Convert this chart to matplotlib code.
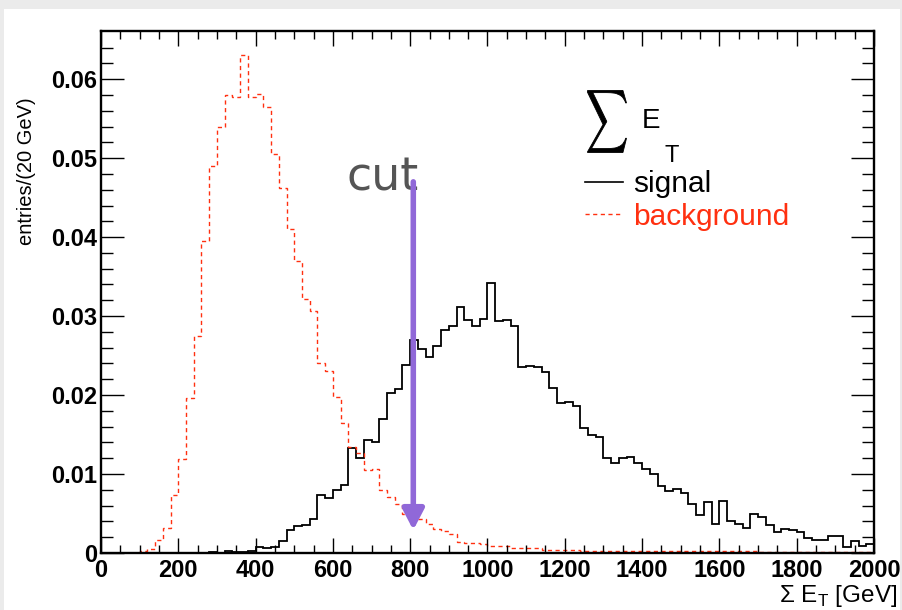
### Import modules
import numpy as np
import matplotlib
matplotlib.use('Agg')
import matplotlib.pyplot as plt
from matplotlib.patches import Rectangle, PathPatch
from matplotlib.textpath import TextPath
from matplotlib.font_manager import FontProperties
from matplotlib.transforms import Affine2D

### Histogram binning (20 GeV bins)
edges = np.arange(0, 2020, 20)

### Signal (normalised entries per bin)
signal = [0, 0, 0, 0, 0, 0, 0, 0, 0, 0,
          0, 0, 0, 0, 0.0001, 0, 0.0002, 0.0001, 0.0001, 0.0002,
          0.0007, 0.0006, 0.0008, 0.0015, 0.0029, 0.0034, 0.0035, 0.0043, 0.0073, 0.0070,
          0.0080, 0.0086, 0.0133, 0.0120, 0.0143, 0.0140, 0.0170, 0.0202, 0.0208, 0.0238,
          0.0270, 0.0258, 0.0248, 0.0262, 0.0282, 0.0287, 0.0311, 0.0295, 0.0287, 0.0296,
          0.0342, 0.0294, 0.0295, 0.0287, 0.0236, 0.0237, 0.0236, 0.0229, 0.0209, 0.0190,
          0.0191, 0.0186, 0.0158, 0.0150, 0.0147, 0.0120, 0.0114, 0.0120, 0.0122, 0.0114,
          0.0107, 0.0100, 0.0085, 0.0079, 0.0081, 0.0076, 0.0062, 0.0048, 0.0064, 0.0037,
          0.0066, 0.0040, 0.0037, 0.0032, 0.0049, 0.0046, 0.0035, 0.0027, 0.0031, 0.0029,
          0.0026, 0.0019, 0.0017, 0.0016, 0.0022, 0.0021, 0.0007, 0.0015, 0.0009, 0.0012]

### Background
background = [0, 0, 0, 0, 0, 0.0002, 0.0005, 0.0017, 0.0032, 0.0074,
              0.0119, 0.0196, 0.0275, 0.0395, 0.0490, 0.0540, 0.0580, 0.0577, 0.0631, 0.0577,
              0.0581, 0.0565, 0.0505, 0.0462, 0.0410, 0.0370, 0.0322, 0.0307, 0.0241, 0.0230,
              0.0197, 0.0164, 0.0134, 0.0127, 0.0105, 0.0106, 0.0080, 0.0071, 0.0062, 0.0049,
              0.0046, 0.0043, 0.0037, 0.0031, 0.0028, 0.0024, 0.0014, 0.0013, 0.0013, 0.0011,
              0.0009, 0.0009, 0.0009, 0.0006, 0.0006, 0.0006, 0.0006, 0.0004, 0.0004, 0.0004,
              0.0004, 0.0004, 0.0003, 0.0003, 0.0003, 0.0003, 0.0003, 0.0003, 0.0003, 0.0003,
              0.0002, 0.0002, 0.0002, 0.0002, 0.0002, 0.0002, 0.0002, 0.0002, 0.0002, 0.0002,
              0.0002, 0.0002, 0.0002, 0.0002, 0.0002, 0.0001, 0.0001, 0.0001, 0.0001, 0.0001,
              0.0001, 0.0001, 0.0001, 0.0001, 0.0001, 0.0001, 0.0001, 0.0001, 0.0001, 0.0001]

### Cut position
cut_value = 808
cut_top = 0.0470
cut_bottom = 0.0029

xticks = np.arange(0, 2200, 200)
yticks = [0, 0.01, 0.02, 0.03, 0.04, 0.05, 0.06]
yticklabels = ['0', '0.01', '0.02', '0.03', '0.04', '0.05', '0.06']

red = '#ff3010'
purple = '#9068d8'

plt.rcParams['font.family'] = ['Liberation Sans', 'DejaVu Sans']
plt.rcParams['mathtext.fontset'] = 'custom'
plt.rcParams['mathtext.rm'] = 'Liberation Sans'

fig = plt.figure(figsize=(9.03, 6.10), dpi=100, facecolor='#ebebeb')
fig.patches.append(Rectangle((4/903., 0), 896/903., 601/610., transform=fig.transFigure,
                             facecolor='white', edgecolor='none', zorder=-10))
ax = fig.add_axes([101/903., 57/610., 773/903., 522/610.])

### Histograms
ax.stairs(signal, edges, baseline=None, color='black', linewidth=1.3)
ax.stairs(background, edges, baseline=None, color=red, linewidth=1.0,
          linestyle=(0, (3, 2.5)))

### Cut arrow
ax.annotate('', xy=(cut_value, cut_bottom), xytext=(cut_value, cut_top),
            arrowprops=dict(arrowstyle='-|>,head_width=6.5,head_length=12.5',
                            mutation_scale=1, lw=4, color=purple,
                            shrinkA=0, shrinkB=0), zorder=5)
ax.text(636, 0.0459, 'cut', family='DejaVu Sans', fontsize=33, color='#555555',
        ha='left', va='baseline', zorder=4)

### Big summation sign, squeezed into a tall narrow box (pixels)
sig_path = TextPath((0, 0), r'$\sum$', size=50,
                    prop=FontProperties(math_fontfamily='cm'))
bb = sig_path.get_extents()
sx = 39. / bb.width
sy = 62. / bb.height
sig_tr = Affine2D().translate(-bb.x0, -bb.y0).scale(sx, sy).translate(587.5, 610 - 152.5)
fig.patches.append(PathPatch(sig_path, transform=sig_tr, facecolor='black',
                             edgecolor='black', linewidth=0.6))

### Legend-like labels
ax.text(0.700, 0.814, 'E', fontsize=20, ha='left', va='baseline', transform=ax.transAxes)
ax.text(0.7296, 0.749, 'T', fontsize=17, ha='left', va='baseline', transform=ax.transAxes)
ax.plot([0.626, 0.675], [0.7107, 0.7107], color='black', lw=1.2, transform=ax.transAxes)
ax.text(0.688, 0.6916, 'signal', fontsize=21.5, ha='left', va='baseline',
        transform=ax.transAxes)
ax.plot([0.626, 0.671], [0.649, 0.649], color=red, lw=1.0, linestyle=(0, (3, 2.5)),
        transform=ax.transAxes)
ax.text(0.688, 0.628, 'background', fontsize=21.5, color=red, ha='left', va='baseline',
        transform=ax.transAxes)

### Axes
ax.set_xlim(0, 2000)
ax.set_ylim(0, 0.0661)
ax.set_xticks(xticks)
ax.set_xticklabels([str(v) for v in xticks], fontsize=17, fontweight='bold')
ax.set_xticks(np.arange(0, 2001, 50), minor=True)
ax.set_yticks(yticks)
ax.set_yticklabels(yticklabels, fontsize=17, fontweight='bold')
ax.set_yticks(np.arange(0, 0.066, 0.002), minor=True)
ax.tick_params(which='both', direction='in', top=True, right=True, width=1.0)
ax.tick_params(axis='x', which='major', length=11, pad=4)
ax.tick_params(axis='x', which='minor', length=5.5)
ax.tick_params(axis='y', which='major', length=16.5, pad=3)
ax.tick_params(axis='y', which='minor', length=8.5)
for s in ax.spines.values():
    s.set_linewidth(1.7)

fig.text(27/903., (610-97)/610., 'entries/(20 GeV)', fontsize=14.5, rotation=90,
         ha='center', va='top')
fig.text(897/903., 8/610., 'Σ E$_{\\mathregular{T}}$ [GeV]', fontsize=17.5,
         ha='right', va='baseline')

plt.savefig('out.png', dpi=100, facecolor=fig.get_facecolor())
